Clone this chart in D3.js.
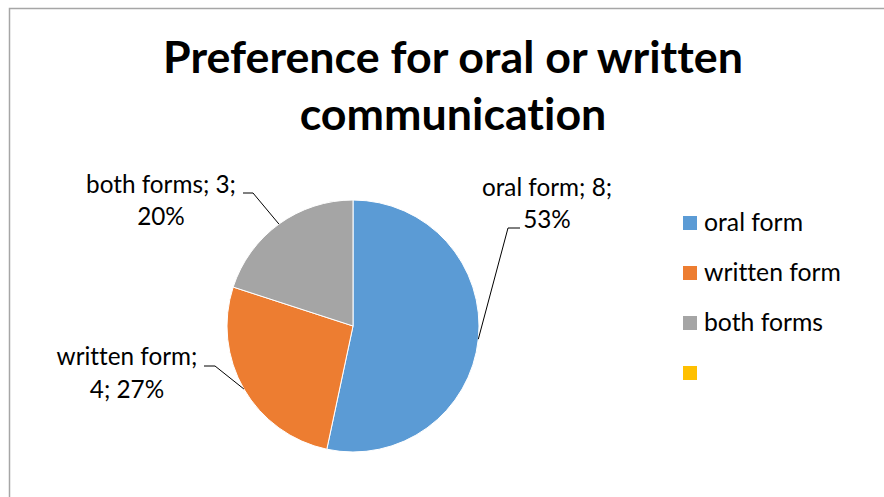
<!DOCTYPE html>
<html>
<head>
<meta charset="utf-8">
<script src="https://cdn.jsdelivr.net/npm/d3@7"></script>
<style>
  html, body { margin: 0; padding: 0; background: #fff; }
  svg { display: block; }
  text { font-family: Lato, "Open Sans", "Liberation Sans", sans-serif; fill: #000;
         font-variant-ligatures: none; font-feature-settings: "liga" 0, "clig" 0; }
</style>
</head>
<body>
<svg id="chart" width="884" height="497"></svg>
<script>
// ---- data ----
const titleLines = ["Preference for oral or written", "communication"];
const categories = ["oral form", "written form", "both forms", ""];
const values = [8, 4, 3, 0];
const colors = ["#5B9BD5", "#ED7D31", "#A5A5A5", "#FFC000"];

// ---- layout ----
const W = 884, H = 497;
const cx = 353, cy = 326, R = 126;
// label layout: leader elbow (x,y), end x, text centre x, baselines, where to break the text
const labelLayout = [
  { elbowX: 508, elbowY: 228, endX: 520, tx: 547, b1: 196, b2: 228, brk: 2 },
  { elbowX: 215, elbowY: 366, endX: 204, tx: 127, b1: 365, b2: 398, brk: 1 },
  { elbowX: 253, elbowY: 193, endX: 243, tx: 161, b1: 193, b2: 225, brk: 2 }
];

const svg = d3.select("#chart");

// chart border (top and left visible)
svg.append("rect").attr("x", 9.5).attr("y", 8.5).attr("width", W + 10).attr("height", H + 10)
  .attr("fill", "#fff").attr("stroke", "#A6A6A6").attr("stroke-width", 1.5);

function fit(sel, target) {
  const base = 40;
  sel.style("font-size", base + "px");
  const w = sel.node().getComputedTextLength();
  const size = base * target / w;
  sel.style("font-size", size + "px");
  return size;
}

// title
const t1 = svg.append("text").attr("x", 453).attr("y", 73).attr("text-anchor", "middle")
  .style("font-weight", "bold").text(titleLines[0]);
const tSize = fit(t1, 580);
svg.append("text").attr("x", 453).attr("y", 130).attr("text-anchor", "middle")
  .style("font-weight", "bold").style("font-size", tSize + "px").text(titleLines[1]);

// pie
const data = categories.map((c, i) => ({ name: c, value: values[i], color: colors[i], i }));
const total = d3.sum(values);
const pie = d3.pie().value(d => d.value).sort(null);
const arcs = pie(data);
const arc = d3.arc().innerRadius(0).outerRadius(R);
const g = svg.append("g").attr("transform", `translate(${cx},${cy})`);
g.selectAll("path").data(arcs.filter(a => a.data.value > 0)).join("path")
  .attr("d", arc).attr("fill", d => d.data.color)
  .attr("stroke", "#fff").attr("stroke-width", 1);

// data labels
const lblG = svg.append("g");
arcs.filter(a => a.data.value > 0).forEach(a => {
  const L = labelLayout[a.data.i];
  const mid = (a.startAngle + a.endAngle) / 2;
  const px = cx + R * Math.sin(mid), py = cy - R * Math.cos(mid);
  lblG.append("polyline")
    .attr("points", `${px},${py} ${L.elbowX},${L.elbowY} ${L.endX},${L.elbowY}`)
    .attr("fill", "none").attr("stroke", "#000").attr("stroke-width", 1);
  const pct = Math.round(a.data.value / total * 100) + "%";
  const parts = [a.data.name + ";", a.data.value + ";", pct];
  const line1 = parts.slice(0, L.brk).join(" ");
  const line2 = parts.slice(L.brk).join(" ");
  lblG.append("text").attr("class", "dl").attr("x", L.tx).attr("y", L.b1).attr("text-anchor", "middle").text(line1);
  lblG.append("text").attr("class", "dl").attr("x", L.tx).attr("y", L.b2).attr("text-anchor", "middle").text(line2);
});
// fit label size with "both forms; 3;" line
const probe = svg.append("text").text(categories[2] + "; " + values[2] + ";");
const labelSize = fit(probe, 150);
probe.remove();
lblG.selectAll("text.dl").style("font-size", labelSize + "px");

// legend
const lg = svg.append("g");
const legRows = lg.selectAll("g").data(data).join("g")
  .attr("transform", (d, i) => `translate(683,${216 + i * 50})`);
legRows.append("rect").attr("width", 14).attr("height", 14).attr("fill", d => d.color);
legRows.append("text").attr("class", "lt").attr("x", 21).attr("y", 15).text(d => d.name);
const probe2 = svg.append("text").text(categories[1]);
const legSize = fit(probe2, 137);
probe2.remove();
lg.selectAll("text.lt").style("font-size", legSize + "px");
</script>
</body>
</html>
